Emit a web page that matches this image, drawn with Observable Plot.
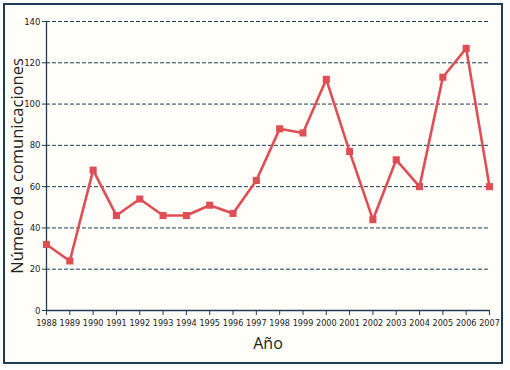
<!DOCTYPE html>
<html>
<head>
<meta charset="utf-8">
<script src="https://cdn.jsdelivr.net/npm/d3@7"></script>
<script src="https://cdn.jsdelivr.net/npm/@observablehq/plot@0.6"></script>
<style>
  html, body { margin: 0; padding: 0; background: #ffffff; }
  #wrap { position: relative; width: 510px; height: 370px; }
  #frame { position: absolute; left: 3px; top: 3px; width: 496px; height: 357px;
           border: 2px solid #1e3b58; background: #fffef8; }
  #chart { position: absolute; left: 0; top: 0; }
</style>
</head>
<body>
<div id="wrap"><div id="frame"></div><div id="chart"></div></div>
<script>
const years = [1988,1989,1990,1991,1992,1993,1994,1995,1996,1997,1998,1999,2000,2001,2002,2003,2004,2005,2006,2007];
const counts = [32,24,68,46,54,46,46,51,47,63,88,86,112,77,44,73,60,113,127,60];
const yTicks = [0,20,40,60,80,100,120,140];
const gridTicks = [20,40,60,80,100,120,140];
const xLabel = "Año";
const yLabel = "Número de comunicaciones";

const data = years.map((y, i) => ({year: y, value: counts[i]}));
const navy = "#1e3b58";
const red = "#e04e55";

const chart = Plot.plot({
  width: 510,
  height: 370,
  marginLeft: 46,
  marginRight: 21,
  marginTop: 21,
  marginBottom: 60,
  style: {background: "transparent", overflow: "visible"},
  x: {type: "linear", domain: [1988, 2007]},
  y: {domain: [0, 140]},
  marks: [
    Plot.gridY(gridTicks, {stroke: navy, strokeOpacity: 1, strokeWidth: 1, strokeDasharray: "4,2"}),
    Plot.ruleY([0], {stroke: navy, strokeWidth: 1.3}),
    Plot.ruleX([1988], {y1: 0, y2: 140, stroke: navy, strokeWidth: 1.3}),
    Plot.axisY({ticks: yTicks, tickSize: 4, tickPadding: 2, stroke: navy, label: null,
      fontSize: 9.5, fontFamily: "Liberation Sans Narrow, DejaVu Sans Condensed, sans-serif", fill: "#222"}),
    Plot.axisX({ticks: years, tickFormat: d => String(d), tickSize: 5, tickPadding: 4, stroke: navy, label: null,
      fontSize: 9, fontFamily: "Liberation Sans Narrow, DejaVu Sans Condensed, sans-serif", fill: "#222"}),
    Plot.line(data, {x: "year", y: "value", stroke: red, strokeWidth: 2.6}),
    Plot.dot(data, {x: "year", y: "value", symbol: "square", r: 4, fill: red, stroke: "none"}),
    Plot.text([yLabel], {frameAnchor: "left", textAnchor: "middle", dx: -29, rotate: -90, fontSize: 16.5, fill: "#222",
      fontFamily: "Open Sans, sans-serif"}),
    Plot.text([xLabel], {frameAnchor: "bottom", textAnchor: "middle", dy: 38, fontSize: 16, fill: "#222",
      fontFamily: "Open Sans, sans-serif"})
  ]
});
document.getElementById("chart").appendChild(chart);
</script>
</body>
</html>
